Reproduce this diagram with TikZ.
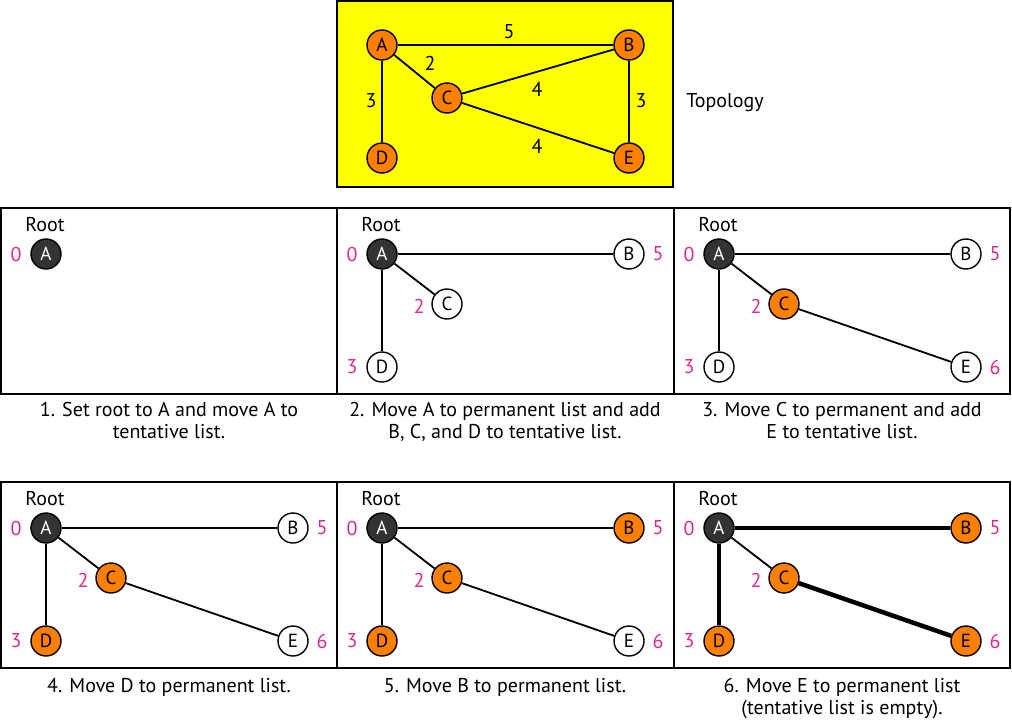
\documentclass[tikz,border=0pt]{standalone}
\usepackage{fontspec}
\setmainfont{PT Sans}
\usetikzlibrary{positioning}
\definecolor{dijorange}{HTML}{FF8000}
\definecolor{dijdark}{HTML}{333333}
\definecolor{dijpink}{HTML}{DD2A8A}
\definecolor{dijyellow}{HTML}{FFFF00}
\tikzset{
  router/.style={circle, draw=black, line width=1.4pt, minimum size=30pt,
    inner sep=0pt, font=\fontsize{19}{22}\selectfont},
  rootnode/.style={router, fill=dijdark, text=white},
  tentnode/.style={router, fill=white},
  permnode/.style={router, fill=dijorange},
  link/.style={line width=1.8pt},
  pathlink/.style={line width=4.5pt},
  panel/.style={draw=black, line width=1.4pt},
  cost/.style={font=\fontsize{20}{22}\selectfont, text=dijpink, inner sep=0pt},
  weight/.style={font=\fontsize{20}{22}\selectfont, inner sep=0pt},
  steptext/.style={font=\fontsize{20}{22}\selectfont, align=center, anchor=north}
}

\begin{document}
\begin{tikzpicture}[x=1pt,y=-1pt]
    \useasboundingbox (0,0) rectangle (1012,720);

    % topology
    \draw[panel, fill=dijyellow] (337,1) rectangle (673,187);
    \node[permnode] (ta) at (382,45) {A};
    \node[permnode] (tb) at (629,45) {B};
    \node[permnode] (tc) at (447,98) {C};
    \node[permnode] (td) at (382,158) {D};
    \node[permnode] (te) at (629,158) {E};
    \foreach \a/\b in {ta/tb,ta/tc,ta/td,tc/tb,tc/te,tb/te}
        \draw[link] (\a) -- (\b);
    \node[weight] (wab) at (509,32) {5};
    \node[weight] (wac) at (430,63) {2};
    \node[weight] (wad) at (371,101) {3};
    \node[weight] (wcb) at (537,89) {4};
    \node[weight] (wbe) at (641,101) {3};
    \node[weight] (wce) at (537,146) {4};
    \node[weight] (topo) at (725,103) {Topology};

    % step 1
    \begin{scope}[shift={(1,208)}]
        \draw[panel] (0,0) rectangle (336,186);
        \node[weight] (root1) at (44,17) {Root};
        \node[rootnode] (a1) at (45,46) {A};
        \node[cost] (ca1) at (15,46) {0};
        \node[steptext] (t1) at (168,191) {1. Set root to A and move A to\\tentative list.};
    \end{scope}

    % step 2
    \begin{scope}[shift={(337,208)}]
        \draw[panel] (0,0) rectangle (337,186);
        \node[weight] (root2) at (44,17) {Root};
        \node[rootnode] (a2) at (45,46) {A};
        \node[tentnode] (b2) at (292,46) {B};
        \node[tentnode] (c2) at (110,96) {C};
        \node[tentnode] (d2) at (45,159) {D};
        \foreach \n in {b2,c2,d2}
            \draw[link] (a2) -- (\n);
        \node[cost] (ca2) at (15,46) {0};
        \node[cost] (cb2) at (321,46) {5};
        \node[cost] (cc2) at (82,98) {2};
        \node[cost] (cd2) at (15,159) {3};
        \node[steptext] (t2) at (168,191) {2. Move A to permanent list and add\\B, C, and D to tentative list.};
    \end{scope}

    % step 3
    \begin{scope}[shift={(674,208)}]
        \draw[panel] (0,0) rectangle (336,186);
        \node[weight] (root3) at (44,17) {Root};
        \node[rootnode] (a3) at (45,46) {A};
        \node[tentnode] (b3) at (292,46) {B};
        \node[permnode] (c3) at (110,96) {C};
        \node[tentnode] (d3) at (45,159) {D};
        \node[tentnode] (e3) at (292,159) {E};
        \foreach \a/\b in {a3/b3,a3/c3,a3/d3,c3/e3}
            \draw[link] (\a) -- (\b);
        \node[cost] (ca3) at (15,46) {0};
        \node[cost] (cb3) at (321,46) {5};
        \node[cost] (cc3) at (82,98) {2};
        \node[cost] (cd3) at (15,159) {3};
        \node[cost] (ce3) at (321,159) {6};
        \node[steptext] (t3) at (168,191) {3. Move C to permanent and add\\E to tentative list.};
    \end{scope}

    % step 4
    \begin{scope}[shift={(1,482)}]
        \draw[panel] (0,0) rectangle (336,186);
        \node[weight] (root4) at (44,17) {Root};
        \node[rootnode] (a4) at (45,46) {A};
        \node[tentnode] (b4) at (292,46) {B};
        \node[permnode] (c4) at (110,96) {C};
        \node[permnode] (d4) at (45,159) {D};
        \node[tentnode] (e4) at (292,159) {E};
        \foreach \a/\b in {a4/b4,a4/c4,a4/d4,c4/e4}
            \draw[link] (\a) -- (\b);
        \node[cost] (ca4) at (15,46) {0};
        \node[cost] (cb4) at (321,46) {5};
        \node[cost] (cc4) at (82,98) {2};
        \node[cost] (cd4) at (15,159) {3};
        \node[cost] (ce4) at (321,159) {6};
        \node[steptext] (t4) at (168,193) {4. Move D to permanent list.};
    \end{scope}

    % step 5
    \begin{scope}[shift={(337,482)}]
        \draw[panel] (0,0) rectangle (337,186);
        \node[weight] (root5) at (44,17) {Root};
        \node[rootnode] (a5) at (45,46) {A};
        \node[permnode] (b5) at (292,46) {B};
        \node[permnode] (c5) at (110,96) {C};
        \node[permnode] (d5) at (45,159) {D};
        \node[tentnode] (e5) at (292,159) {E};
        \foreach \a/\b in {a5/b5,a5/c5,a5/d5,c5/e5}
            \draw[link] (\a) -- (\b);
        \node[cost] (ca5) at (15,46) {0};
        \node[cost] (cb5) at (321,46) {5};
        \node[cost] (cc5) at (82,98) {2};
        \node[cost] (cd5) at (15,159) {3};
        \node[cost] (ce5) at (321,159) {6};
        \node[steptext] (t5) at (168,193) {5. Move B to permanent list.};
    \end{scope}

    % step 6
    \begin{scope}[shift={(674,482)}]
        \draw[panel] (0,0) rectangle (336,186);
        \node[weight] (root6) at (44,17) {Root};
        \node[rootnode] (a6) at (45,46) {A};
        \node[permnode] (b6) at (292,46) {B};
        \node[permnode] (c6) at (110,96) {C};
        \node[permnode] (d6) at (45,159) {D};
        \node[permnode] (e6) at (292,159) {E};
        \draw[link] (a6) -- (c6);
        \foreach \a/\b in {a6/b6,a6/d6,c6/e6}
            \draw[pathlink] (\a) -- (\b);
        \node[cost] (ca6) at (15,46) {0};
        \node[cost] (cb6) at (321,46) {5};
        \node[cost] (cc6) at (82,98) {2};
        \node[cost] (cd6) at (15,159) {3};
        \node[cost] (ce6) at (321,159) {6};
        \node[steptext] (t6) at (168,193) {6. Move E to permanent list\\(tentative list is empty).};
    \end{scope}
\end{tikzpicture}
\end{document}
